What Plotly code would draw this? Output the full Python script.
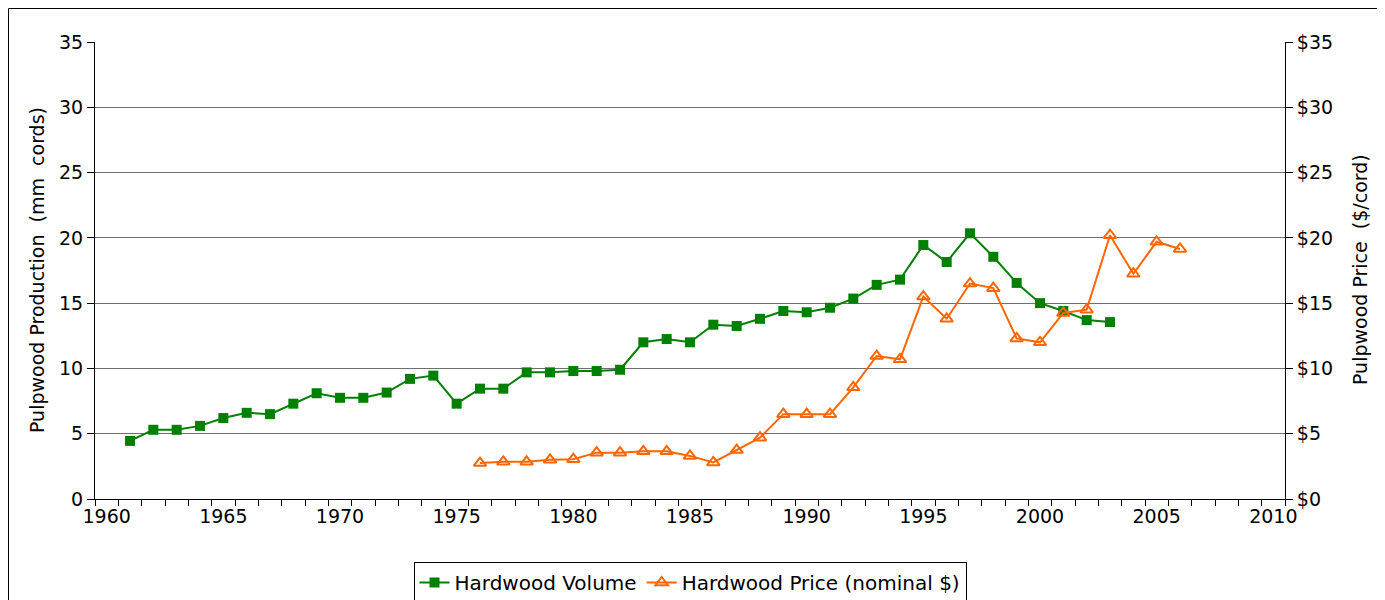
import plotly.graph_objects as go

vol_years = list(range(1961, 2004))
volume = [4.45, 5.3, 5.3, 5.6, 6.2, 6.6, 6.5, 7.3, 8.1, 7.75, 7.75, 8.15, 9.2, 9.45,
          7.3, 8.45, 8.45, 9.7, 9.7, 9.8, 9.8, 9.9, 12.0, 12.25, 12.0, 13.35, 13.25,
          13.8, 14.4, 14.3, 14.65, 15.35, 16.4, 16.8, 19.45, 18.15, 20.35, 18.55,
          16.55, 15.0, 14.4, 13.7, 13.55]

price_years = list(range(1976, 2007))
price = [2.75, 2.85, 2.85, 3.0, 3.05, 3.55, 3.55, 3.65, 3.65, 3.3, 2.8, 3.75, 4.7,
         6.5, 6.5, 6.5, 8.55, 10.95, 10.7, 15.5, 13.8, 16.5, 16.15, 12.3, 12.0,
         14.25, 14.5, 20.2, 17.25, 19.7, 19.15]

y_ticks = [0, 5, 10, 15, 20, 25, 30, 35]
x_ticks = [1960, 1965, 1970, 1975, 1980, 1985, 1990, 1995, 2000, 2005, 2010]

font = "DejaVu Sans, Verdana, sans-serif"
FS = 19

OFF = 8  # page body margin
L, T = 95 - OFF, 42 - OFF
R = 1385 - (1285 - OFF)
B = 600 - (499 - OFF)
PW, PH = 1385 - L - R, 600 - T - B

def px(xpix):
    return (xpix - OFF - L) / PW

def py(ypix):
    return (600 - B - (ypix - OFF)) / PH

fig = go.Figure()
fig.add_trace(go.Scatter(
    x=vol_years, y=volume, name="Hardwood Volume", mode="lines+markers",
    line=dict(color="#008000", width=2),
    marker=dict(symbol="square", size=10, color="#008000"),
))
fig.add_trace(go.Scatter(
    x=price_years, y=price, name="Hardwood Price (nominal $)", mode="lines+markers",
    line=dict(color="#FF6600", width=2),
    marker=dict(symbol="triangle-up-open", size=11, color="#FF6600", line=dict(width=2)),
    yaxis="y2",
))

fig.update_layout(
    width=1385, height=600,
    margin=dict(l=L, r=R, t=T, b=B, autoexpand=False),
    paper_bgcolor="white", plot_bgcolor="white",
    font=dict(family=font, size=FS, color="black"),
    showlegend=True,
    legend=dict(orientation="h", x=0.5, xanchor="center", y=py(562), yanchor="top",
                bordercolor="black", borderwidth=1, font=dict(size=20, family=font),
                tracegroupgap=0),
    xaxis=dict(range=[1959.5, 2010.5], tickvals=x_ticks,
               showgrid=False, zeroline=False, automargin=False,
               showline=True, linecolor="black", linewidth=1,
               ticks="", ticklen=0,
               minor=dict(dtick=1, tick0=1959.5, ticks="outside", ticklen=6, tickcolor="black", showgrid=False),
               tickfont=dict(size=FS)),
    yaxis=dict(range=[0, 35], tickvals=y_ticks, showgrid=True, gridcolor="#6e6e6e", gridwidth=1,
               zeroline=False, showline=True, linecolor="black", linewidth=1, automargin=False,
               ticks="outside", ticklen=7, tickcolor="black",
               tickfont=dict(size=FS)),
    yaxis2=dict(range=[0, 35], tickvals=y_ticks, ticktext=["$" + str(v) for v in y_ticks],
                overlaying="y", side="right", showgrid=False, zeroline=False, automargin=False,
                showline=True, linecolor="black", linewidth=1,
                ticks="outside", ticklen=7, tickcolor="black",
                tickfont=dict(size=FS)),
)

fig.add_annotation(text="Pulpwood Production  (mm  cords)", xref="paper", yref="paper",
                   x=px(37), y=py(270), textangle=-90, showarrow=False,
                   xanchor="center", yanchor="middle", font=dict(size=FS))
fig.add_annotation(text="Pulpwood Price  ($/cord)", xref="paper", yref="paper",
                   x=px(1360), y=py(270), textangle=-90, showarrow=False,
                   xanchor="center", yanchor="middle", font=dict(size=FS))

fig.add_shape(type="rect", xref="paper", yref="paper",
              x0=px(8.5), x1=px(1383), y0=py(610), y1=py(8.5),
              line=dict(color="black", width=1), fillcolor="rgba(0,0,0,0)", layer="below")

fig.write_html("out.html")
